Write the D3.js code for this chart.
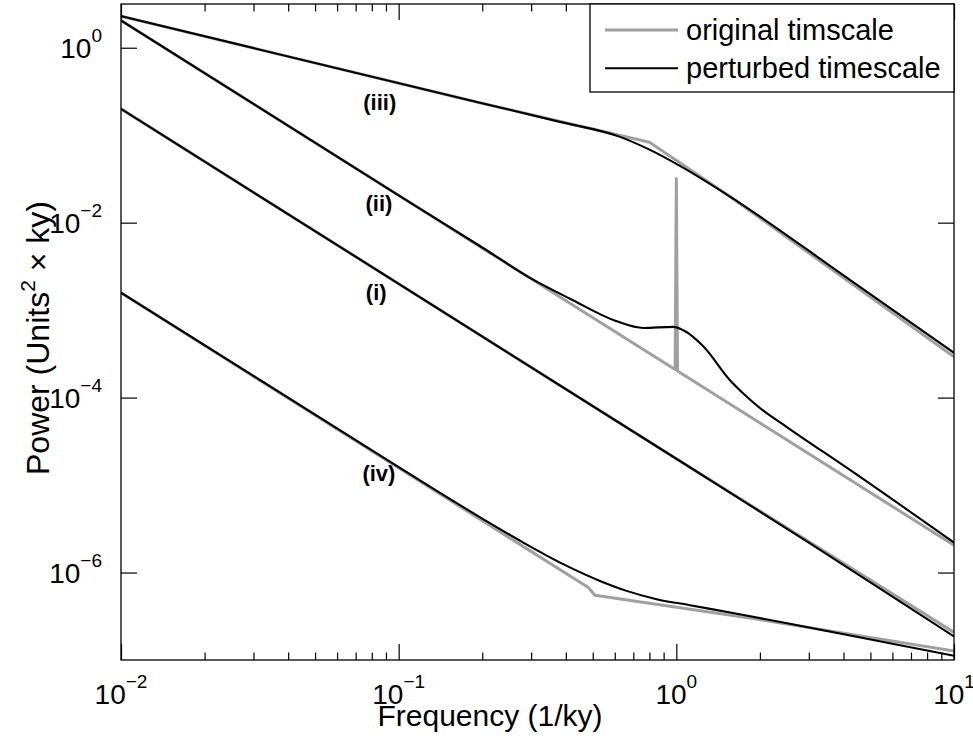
<!DOCTYPE html>
<html>
<head>
<meta charset="utf-8">
<script src="https://cdn.jsdelivr.net/npm/d3@7"></script>
<style>
  body { margin: 0; background: #fff; }
  text { font-family: "Liberation Sans", Arial, Helvetica, sans-serif; fill: #000; }
</style>
</head>
<body>
<div id="chart"></div>
<script>
// curve (iii)
let freqIIIOrig = [0.01, 0.196, 0.80, 1.56, 10];
let powIIIOrig  = [2.30, 0.235, 0.0832, 0.0199, 2.92e-4];
let freqIIIPert = [0.01, 0.196, 0.381, 0.627, 0.804, 1.03, 1.56, 4.0, 10];
let powIIIPert  = [2.30, 0.235, 0.142, 0.0957, 0.0679, 0.0446, 0.0199, 2.5e-3, 3.25e-4];

// curve (ii)
let freqIIOrig = [0.01, 0.99, 1.0, 1.01, 10];
let powIIOrig  = [2.05, 2.09e-4, 0.032, 2.01e-4, 2.05e-6];
let freqIIPert = [0.01, 0.1, 0.2, 0.305, 0.414, 0.61, 0.76, 0.975, 1.06, 1.25, 1.56, 1.75, 2.0, 2.5, 4.22, 10];
let powIIPert  = [2.05, 0.0205, 5.2e-3, 2.23e-3, 1.35e-3, 7.45e-4, 6.26e-4, 6.43e-4, 5.88e-4, 3.86e-4, 1.58e-4, 1.10e-4, 7.6e-5, 4.61e-5, 1.49e-5, 2.20e-6];

// curve (i)
let freqIOrig = [0.01, 1, 10];
let powIOrig  = [0.2, 2.0e-5, 2.07e-7];
let freqIPert = [0.01, 1, 3, 10];
let powIPert  = [0.2, 2.0e-5, 2.2e-6, 1.86e-7];

// curve (iv)
let freqIVOrig = [0.01, 0.482, 0.509, 1.69, 10];
let powIVOrig  = [1.58e-3, 6.74e-7, 5.51e-7, 3.15e-7, 1.27e-7];
let freqIVPert = [0.01, 0.1, 0.202, 0.281, 0.403, 0.531, 0.662, 0.849, 1.12, 1.69, 2.79, 10];
let powIVPert  = [1.58e-3, 1.6e-5, 4.06e-6, 2.20e-6, 1.19e-6, 8.01e-7, 6.17e-7, 4.96e-7, 4.23e-7, 3.34e-7, 2.46e-7, 1.12e-7];

// curve labels
let curveNames = ["(iii)", "(ii)", "(i)", "(iv)"];
let curveLabelFreq = [0.0855, 0.0849, 0.083, 0.0849];
let curveLabelPow  = [0.239, 0.0168, 1.61e-3, 1.37e-5];

// ticks
let xMajorTicks = [0.01, 0.1, 1, 10];
let xMajorExp = [-2, -1, 0, 1];
let yMajorTicks = [1, 1e-2, 1e-4, 1e-6];
let yMajorExp = [0, -2, -4, -6];
let legendNames = ["original timscale", "perturbed timescale"];

let width = 973,
    height = 746,
    margin = {top: 4, right: 19, bottom: 86, left: 121},
    w = width - margin.left - margin.right,
    h = height - margin.top - margin.bottom;

let grey = "#a0a0a0";

let svg = d3.select("#chart")
    .append("svg")
    .attr("width", width)
    .attr("height", height);

let g = svg.append("g")
    .attr("transform", "translate(" + margin.left + "," + margin.top + ")");

let x = d3.scaleLog().domain([0.01, 10]).range([0, w]);
let y = d3.scaleLog().domain([1e-7, Math.pow(10, 0.5)]).range([h, 0]);

svg.append("defs").append("clipPath").attr("id", "plotclip")
    .append("rect").attr("width", w).attr("height", h);

function zip(f, p) {
    return f.map(function(v, i) { return [v, p[i]]; });
}

let origSeries = [zip(freqIIIOrig, powIIIOrig), zip(freqIIOrig, powIIOrig), zip(freqIOrig, powIOrig), zip(freqIVOrig, powIVOrig)];
let pertSeries = [zip(freqIIIPert, powIIIPert), zip(freqIIPert, powIIPert), zip(freqIPert, powIPert), zip(freqIVPert, powIVPert)];

let lineOrig = d3.line()
    .x(function(d) { return x(d[0]); })
    .y(function(d) { return y(d[1]); });

let linePert = d3.line()
    .curve(d3.curveMonotoneX)
    .x(function(d) { return x(d[0]); })
    .y(function(d) { return y(d[1]); });

let lines = g.append("g").attr("clip-path", "url(#plotclip)");

lines.selectAll("path.orig")
    .data(origSeries)
    .enter().append("path")
    .attr("class", "orig")
    .attr("d", lineOrig)
    .attr("fill", "none")
    .attr("stroke", grey)
    .attr("stroke-width", 3)
    .attr("stroke-linejoin", "round");

lines.selectAll("path.pert")
    .data(pertSeries)
    .enter().append("path")
    .attr("class", "pert")
    .attr("d", linePert)
    .attr("fill", "none")
    .attr("stroke", "#000")
    .attr("stroke-width", 2.1);

// minor ticks for x
let xMinorTicks = [];
[0.01, 0.1, 1].forEach(function(dec) {
    for (let k = 2; k <= 9; k++) xMinorTicks.push(dec * k);
});

function noDomain(sel) { sel.select(".domain").remove(); }

g.append("g").attr("transform", "translate(0," + h + ")")
    .call(d3.axisBottom(x).tickValues(xMinorTicks).tickSize(-7.5).tickFormat(""))
    .call(noDomain);
g.append("g")
    .call(d3.axisTop(x).tickValues(xMinorTicks).tickSize(-7.5).tickFormat(""))
    .call(noDomain);
g.append("g").attr("transform", "translate(0," + h + ")")
    .call(d3.axisBottom(x).tickValues(xMajorTicks).tickSize(-16).tickFormat(""))
    .call(noDomain);
g.append("g")
    .call(d3.axisTop(x).tickValues(xMajorTicks).tickSize(-16).tickFormat(""))
    .call(noDomain);
g.append("g")
    .call(d3.axisLeft(y).tickValues(yMajorTicks).tickSize(-16).tickFormat(""))
    .call(noDomain);
g.append("g").attr("transform", "translate(" + w + ",0)")
    .call(d3.axisRight(y).tickValues(yMajorTicks).tickSize(-16).tickFormat(""))
    .call(noDomain);

g.selectAll(".tick line").attr("stroke", "#000").attr("stroke-width", 1.2);

// frame
g.append("rect")
    .attr("width", w).attr("height", h)
    .attr("fill", "none")
    .attr("stroke", "#000")
    .attr("stroke-width", 1.3);

function powerLabel(sel, exp) {
    sel.append("tspan").text("10");
    sel.append("tspan")
        .attr("font-size", 19)
        .attr("dy", -16)
        .text(exp < 0 ? "\u2212" + (-exp) : exp);
}

g.selectAll("text.xtick")
    .data(xMajorTicks)
    .enter().append("text")
    .attr("class", "xtick")
    .attr("x", function(d) { return x(d); })
    .attr("y", h + 44)
    .attr("text-anchor", "middle")
    .attr("font-size", 28)
    .each(function(d, i) { powerLabel(d3.select(this), xMajorExp[i]); });

g.selectAll("text.ytick")
    .data(yMajorTicks)
    .enter().append("text")
    .attr("class", "ytick")
    .attr("x", -19)
    .attr("y", function(d) { return y(d) + 10; })
    .attr("text-anchor", "end")
    .attr("font-size", 28)
    .each(function(d, i) { powerLabel(d3.select(this), yMajorExp[i]); });

// curve labels
g.selectAll("text.cname")
    .data(curveNames)
    .enter().append("text")
    .attr("class", "cname")
    .attr("x", function(d, i) { return x(curveLabelFreq[i]); })
    .attr("y", function(d, i) { return y(curveLabelPow[i]); })
    .attr("dy", "0.35em")
    .attr("text-anchor", "middle")
    .attr("font-size", 22)
    .attr("font-weight", "bold")
    .text(function(d) { return d; });

// axis titles
svg.append("text")
    .attr("x", 490)
    .attr("y", 726)
    .attr("text-anchor", "middle")
    .attr("font-size", 30)
    .text("Frequency (1/ky)");

let ylab = svg.append("text")
    .attr("transform", "translate(49,338) rotate(-90)")
    .attr("text-anchor", "middle")
    .attr("font-size", 32);
ylab.append("tspan").text("Power (Units");
ylab.append("tspan").attr("font-size", 21).attr("dy", -14).text("2");
ylab.append("tspan").attr("dy", 14).text(" \u00d7 ky)");

// legend
let legend = g.append("g").attr("transform", "translate(" + (w - 364) + ",0)");
legend.append("rect")
    .attr("width", 364)
    .attr("height", 88)
    .attr("fill", "#fff")
    .attr("stroke", "#000")
    .attr("stroke-width", 1.3);

let legendColors = [grey, "#000"];
let legendWidths = [3, 2];
let legendRows = legend.selectAll("g.row")
    .data(legendNames)
    .enter().append("g")
    .attr("class", "row")
    .attr("transform", function(d, i) { return "translate(0," + (26 + i * 38.3) + ")"; });

legendRows.append("line")
    .attr("x1", 15).attr("x2", 88)
    .attr("stroke", function(d, i) { return legendColors[i]; })
    .attr("stroke-width", function(d, i) { return legendWidths[i]; });

legendRows.append("text")
    .attr("x", 96)
    .attr("y", 10)
    .attr("font-size", 29)
    .text(function(d) { return d; });
</script>
</body>
</html>
